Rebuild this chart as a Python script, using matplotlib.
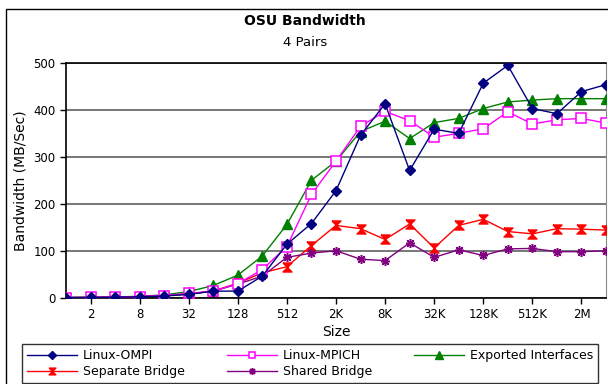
import matplotlib
matplotlib.use("Agg")
import matplotlib.pyplot as plt
from matplotlib.patches import Rectangle

sizes = ["1", "2", "4", "8", "16", "32", "64", "128", "256", "512", "1K", "2K",
         "4K", "8K", "16K", "32K", "64K", "128K", "256K", "512K", "1M", "2M", "4M"]

linux_ompi = [0.3, 0.5, 1, 2, 3.5, 7, 14, 14, 46, 114, 158, 228, 346, 413, 271,
              359, 350, 457, 495, 403, 392, 439, 454]
linux_mpich = [0.3, 0.6, 1.2, 2.5, 4.5, 9, 14, 30, 60, 109, 220, 291, 365, 397,
               377, 342, 350, 360, 396, 370, 379, 382, 372]
exported = [0.4, 0.8, 1.5, 3, 6, 13, 26, 48, 89, 156, 250, 291, 354, 376, 339,
            373, 382, 403, 417, 421, 424, 424, 424]
separate = [0.3, 0.6, 1.2, 2.5, 4.5, 8, 14, 31, 53, 66, 111, 154, 147, 124, 157,
            106, 154, 167, 141, 136, 147, 146, 144]
shared = [0.3, 0.6, 1.2, 2.5, 4.5, 8, 14, 29, 46, 86, 95, 100, 82, 79, 117,
          86, 102, 90, 104, 105, 98, 98, 100]

labels = ["Linux-OMPI", "Linux-MPICH", "Exported Interfaces",
          "Separate Bridge", "Shared Bridge"]

hourglass = [(-1, 1), (1, 1), (-1, -1), (1, -1), (-1, 1)]

fig = plt.figure(figsize=(6.08, 3.84), dpi=100)
fig.patch.set_facecolor("white")
fig.patches.append(Rectangle((6 / 608, -0.05), 1.2, 1.05 - 9 / 384,
                             transform=fig.transFigure, fill=False,
                             edgecolor="black", linewidth=1.0))

ax = fig.add_axes([66 / 608, 1 - 297.7 / 384, (606 - 66) / 608, (297.7 - 63) / 384])
x = list(range(len(sizes)))

h_ompi, = ax.plot(x, linux_ompi, color="#000080", lw=1, marker="D", ms=5,
                  label=labels[0], zorder=5)
h_mpich, = ax.plot(x, linux_mpich, color="#FF00FF", lw=1, marker="s", ms=6.5,
                   mfc="white", mec="#FF00FF", mew=1.1, label=labels[1], zorder=4)
h_exp, = ax.plot(x, exported, color="#008000", lw=1, marker="^", ms=7,
                 label=labels[2], zorder=3)
h_sep, = ax.plot(x, separate, color="#FF0000", lw=1, marker=hourglass, ms=6.5,
                 label=labels[3], zorder=3)
h_sh, = ax.plot(x, shared, color="#800080", lw=1, marker=(8, 2, 0), ms=6.5,
                mew=1.1, label=labels[4], zorder=3)

ax.set_xlim(0, len(sizes) - 1)
ax.set_ylim(0, 500)
ax.set_yticks(range(0, 501, 100))
ax.set_xticks(x[1::2])
ax.set_xticklabels(sizes[1::2])
ax.tick_params(axis="both", labelsize=8.5, length=4, width=1, direction="out",
               color="black")
ax.grid(axis="y", color="#606060", linewidth=1.2)
ax.set_axisbelow(True)
for side in ("left", "bottom", "top"):
    ax.spines[side].set_color("black")
    ax.spines[side].set_linewidth(1.2)
ax.spines["right"].set_color("#888888")

ax.set_xlabel("Size", fontsize=10, labelpad=3)
ax.set_ylabel("Bandwidth (MB/Sec)", fontsize=10)

fig.text(0.502, 1 - 21 / 384, "OSU Bandwidth", ha="center", va="center",
         fontsize=10, fontweight="bold")
fig.text(0.502, 1 - 43 / 384, "4 Pairs", ha="center", va="center", fontsize=9.5)

handles = [h_ompi, h_sep, h_mpich, h_sh, h_exp]
leg = fig.legend(handles, [h.get_label() for h in handles], ncol=3,
                 loc="lower left", mode="expand",
                 bbox_to_anchor=(22 / 608, 1 / 384, 576 / 608, 42 / 384),
                 fontsize=9, handlelength=4, frameon=True, fancybox=False,
                 borderaxespad=0, labelspacing=0.25, borderpad=0.4,
                 handletextpad=0.5, columnspacing=1.0, markerscale=0.75)
leg.get_frame().set_edgecolor("black")
leg.get_frame().set_linewidth(1)

fig.savefig("out.png", dpi=100)
